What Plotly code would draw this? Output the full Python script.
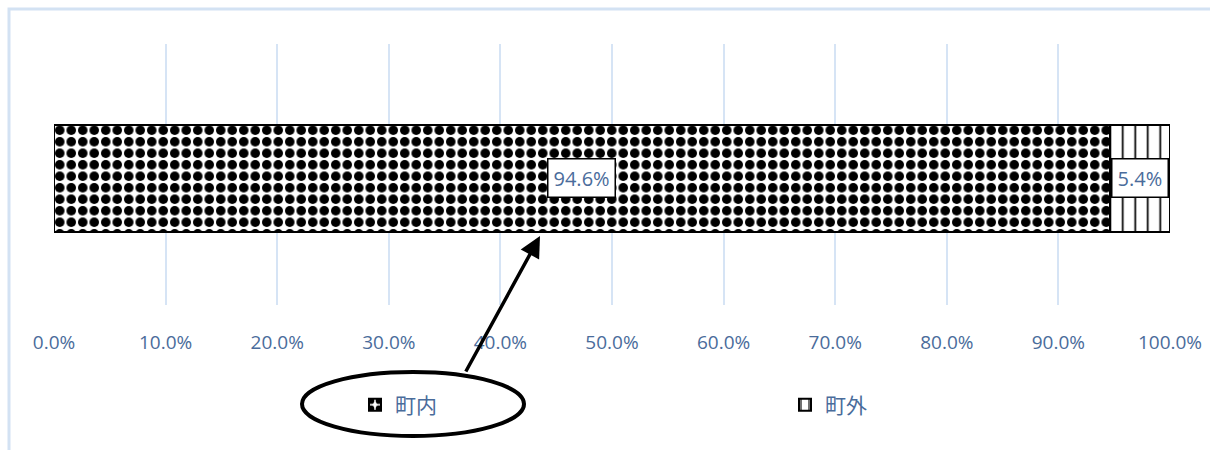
import plotly.graph_objects as go

categories = [""]
series_names = ["町内", "町外"]
values = [94.6, 5.4]
tick_vals = [0, 10, 20, 30, 40, 50, 60, 70, 80, 90, 100]
tick_text = ["0.0%", "10.0%", "20.0%", "30.0%", "40.0%", "50.0%", "60.0%", "70.0%", "80.0%", "90.0%", "100.0%"]

W, H = 1210, 450
ML = 54
MR = W - 1170
MT = 44
MB = H - 305
PW = W - ML - MR
PH = H - MT - MB


def px(x):  # window pixel -> paper
    return (x - ML) / PW


def py(y):
    return (H - MB - y) / PH


TXT = "#4A6C9B"
FONT = "Open Sans, Noto Sans CJK JP, sans-serif"

patterns = [
    dict(shape=".", fgcolor="black", bgcolor="white", size=11.5, solidity=0.55, fillmode="replace"),
    dict(shape="|", fgcolor="black", bgcolor="white", size=12.5, solidity=0.14, fillmode="replace"),
]
legend_ids = ["legend", "legend2"]
legend_x = [355, 785]

fig = go.Figure()
for name, v, pat, lg in zip(series_names, values, patterns, legend_ids):
    fig.add_trace(go.Bar(
        y=categories, x=[v], name=name, orientation="h",
        width=0.41, legend=lg,
        marker=dict(color="white", pattern=pat, line=dict(color="black", width=2)),
        hoverinfo="skip",
    ))

# data labels with boxes
cum = 0
for v in values:
    fig.add_annotation(
        x=cum + v / 2, y=0, xref="x", yref="y",
        text=f"{v:.1f}%", showarrow=False,
        font=dict(family=FONT, size=20, color=TXT),
        bgcolor="white", bordercolor="black", borderwidth=1.5, borderpad=5,
    )
    cum += v

# ellipse around legend item
fig.add_shape(type="circle", xref="paper", yref="paper",
              x0=px(302), x1=px(524), y0=py(436), y1=py(372),
              line=dict(color="black", width=4), fillcolor="rgba(0,0,0,0)")

# arrow
fig.add_annotation(x=px(540), y=py(236), xref="paper", yref="paper",
                   ax=-75, ay=137, axref="pixel", ayref="pixel",
                   text="", showarrow=True, arrowhead=2, arrowsize=1.2,
                   arrowwidth=3.5, arrowcolor="black")

# chart frame (light blue)
fig.add_shape(type="path", xref="paper", yref="paper",
              path=f"M {px(9)} {py(460)} L {px(9)} {py(9)} L {px(1220)} {py(9)}",
              line=dict(color="#D3E2F3", width=3))

leg_common = dict(orientation="h", xanchor="left", y=py(405), yanchor="middle",
                  font=dict(family=FONT, size=21, color=TXT),
                  itemwidth=30, bgcolor="rgba(0,0,0,0)")

fig.update_layout(
    width=W, height=H,
    margin=dict(l=ML, r=MR, t=MT, b=MB),
    barmode="stack",
    plot_bgcolor="white", paper_bgcolor="white",
    font=dict(family=FONT, size=19, color=TXT),
    showlegend=True,
    legend=dict(x=px(legend_x[0]), **leg_common),
    legend2=dict(x=px(legend_x[1]), **leg_common),
)
fig.update_xaxes(range=[0, 100], tickvals=tick_vals, ticktext=tick_text,
                 showgrid=True, gridcolor="#D6E4F5", gridwidth=2,
                 zeroline=False, showline=False, ticks="",
                 ticklabelstandoff=24, automargin=False, ticklabeloverflow="allow",
                 tickfont=dict(family=FONT, size=19, color=TXT))
fig.update_yaxes(range=[-0.485, 0.515], showticklabels=False, showgrid=False,
                 zeroline=False, showline=False)

fig.write_html("out.html",
               config={"displayModeBar": False},
               post_script="document.body.style.margin='0';document.body.style.overflow='hidden';")
